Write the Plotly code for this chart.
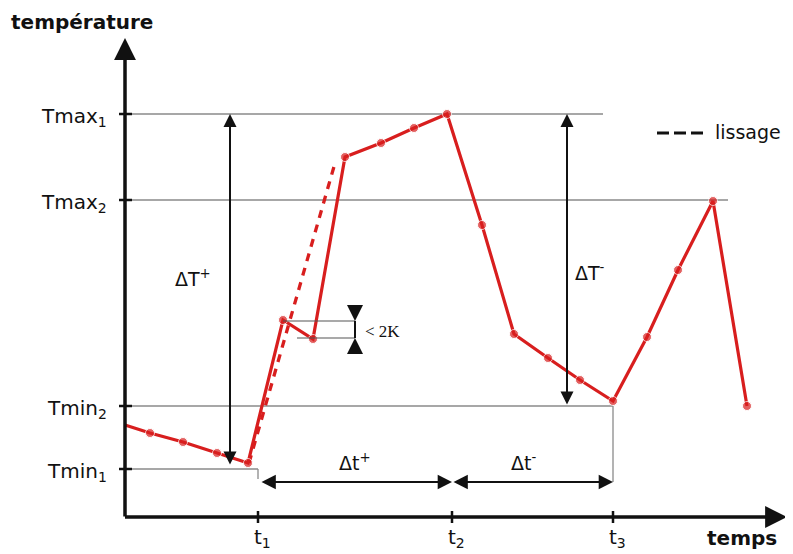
import plotly.graph_objects as go

# ---- data (time, temperature in diagram units; origin = axis corner) ----
time = [0, 25, 58, 92, 123, 158, 188, 220, 256, 289, 322, 357, 389, 423, 455, 488, 522, 553, 588, 622]
temp = [92, 84, 75, 64, 54, 197, 178, 360, 374, 389, 403, 292, 183, 159, 137, 116, 180, 247, 316, 111]
marker_on = [0] + [1] * 19

smooth_time = [124, 210]
smooth_temp = [54, 354]

tmax1, tmax2, tmin2, tmin1 = 403, 317, 111, 48
t1, t2, t3 = 133, 327, 488
y_levels = [tmax1, tmax2, tmin2, tmin1]
y_labels = ["Tmax<sub>1</sub>", "Tmax<sub>2</sub>", "Tmin<sub>2</sub>", "Tmin<sub>1</sub>"]
x_levels = [t1, t2, t3]
x_labels = ["t<sub>1</sub>", "t<sub>2</sub>", "t<sub>3</sub>"]
level_ends = [478, 603, t3, t1]

dT_plus_x, dT_minus_x = 105, 442
dt_y = 35
k2_top, k2_bot, k2_x = 196, 179, 230

RED = "#d81e1e"
FONT = "DejaVu Sans"
INK = "#111111"

fig = go.Figure()

fig.add_trace(go.Scatter(x=smooth_time, y=smooth_temp, mode="lines",
                         line=dict(color=RED, width=3.3, dash="8px,7px"),
                         hoverinfo="skip", showlegend=False))
fig.add_trace(go.Scatter(x=time, y=temp, mode="lines+markers",
                         line=dict(color=RED, width=3.2),
                         marker=dict(color=RED, size=[9 * m for m in marker_on]),
                         showlegend=False))

shapes = []
# horizontal reference lines
for lv, end in zip(y_levels, level_ends):
    shapes.append(dict(type="line", xref="x", yref="y", x0=0, x1=end, y0=lv, y1=lv,
                       line=dict(color="#8a8a8a", width=1.3), layer="below"))
# vertical drop lines
shapes.append(dict(type="line", xref="x", yref="y", x0=t3, x1=t3, y0=tmin2, y1=dt_y,
                   line=dict(color="#8a8a8a", width=1.3), layer="below"))
shapes.append(dict(type="line", xref="x", yref="y", x0=t1, x1=t1, y0=tmin1, y1=dt_y + 3,
                   line=dict(color="#8a8a8a", width=1.3), layer="below"))
# 2K bracket lines
shapes.append(dict(type="line", xref="x", yref="y", x0=time[5], x1=k2_x, y0=k2_top, y1=k2_top,
                   line=dict(color="#555555", width=1.2)))
shapes.append(dict(type="line", xref="x", yref="y", x0=172, x1=k2_x, y0=k2_bot, y1=k2_bot,
                   line=dict(color="#555555", width=1.2)))
shapes.append(dict(type="line", xref="x", yref="y", x0=k2_x, x1=k2_x, y0=k2_top, y1=k2_bot,
                   line=dict(color=INK, width=2)))
# tick marks
for lv in y_levels:
    shapes.append(dict(type="line", xref="x", yref="y", x0=-6, x1=7, y0=lv, y1=lv,
                       line=dict(color=INK, width=2.5)))
for tv in x_levels:
    shapes.append(dict(type="line", xref="x", yref="y", x0=tv, x1=tv, y0=-6, y1=6,
                       line=dict(color=INK, width=2.5)))
# legend dash
shapes.append(dict(type="line", xref="x", yref="y", x0=532, x1=578, y0=384, y1=384,
                   line=dict(color=INK, width=3, dash="12px,5px")))

ann = []

def arrow(x, y, ax, ay, width, size, both=False):
    ann.append(dict(x=x, y=y, ax=ax, ay=ay, xref="x", yref="y", axref="x", ayref="y",
                    text="", showarrow=True, arrowhead=2, startarrowhead=2,
                    arrowwidth=width, arrowsize=size, startarrowsize=size,
                    arrowcolor=INK, arrowside="end+start" if both else "end"))

# axes
arrow(0, 479, 0, -1, 3.5, 1.25)
arrow(662, 0, -1.5, 0, 3.5, 1.25)
# delta T arrows
arrow(dT_plus_x, tmax1, dT_plus_x, tmin1 + 3, 2, 1.3, both=True)
arrow(dT_minus_x, tmax1, dT_minus_x, tmin2, 2, 1.3, both=True)
# delta t arrows
arrow(t2, dt_y, t1 + 2, dt_y, 2.2, 1.3, both=True)
arrow(t3, dt_y, t2, dt_y, 2.2, 1.3, both=True)
# 2K arrows
arrow(k2_x, k2_top, k2_x, k2_top + 14, 2, 1.6)
arrow(k2_x, k2_bot, k2_x, k2_bot - 14, 2, 1.6)

def text(x, y, s, size=20, xanchor="center", yanchor="middle", bold=False, family=FONT, xs=0, ys=0):
    ann.append(dict(x=x, y=y, xref="x", yref="y", text=f"<b>{s}</b>" if bold else s,
                    showarrow=False, xanchor=xanchor, yanchor=yanchor, xshift=xs, yshift=ys,
                    font=dict(family=family, size=size, color=INK)))

for lv, lab in zip(y_levels, y_labels):
    text(-16, lv, lab, xanchor="right", ys=-3)
for tv, lab in zip(x_levels, x_labels):
    text(tv, -21, lab, xs=4)

text(-116, 495, "température", size=20, xanchor="left", bold=True)
text(654, -21, "temps", size=20, xanchor="right", bold=True)
text(68, 239, "ΔT<sup>+</sup>", size=19)
text(465, 245, "ΔT<sup>-</sup>", size=19)
text(230, 55, "Δt<sup>+</sup>", size=19)
text(398, 55, "Δt<sup>-</sup>", size=19)
text(238, 186, "&lt; 2K", size=17, xanchor="left", family="Liberation Serif")
text(588, 385, "lissage", size=19, xanchor="left")

# the page body adds an 8 px margin, so the figure is 8 px smaller and ranges shifted
fig.update_layout(
    width=785, height=546, margin=dict(l=0, r=0, t=0, b=0),
    paper_bgcolor="white", plot_bgcolor="white",
    xaxis=dict(range=[-117, 668], visible=False, fixedrange=True),
    yaxis=dict(range=[-37, 509], visible=False, fixedrange=True),
    shapes=shapes, annotations=ann, showlegend=False,
)

fig.write_html("out.html")
